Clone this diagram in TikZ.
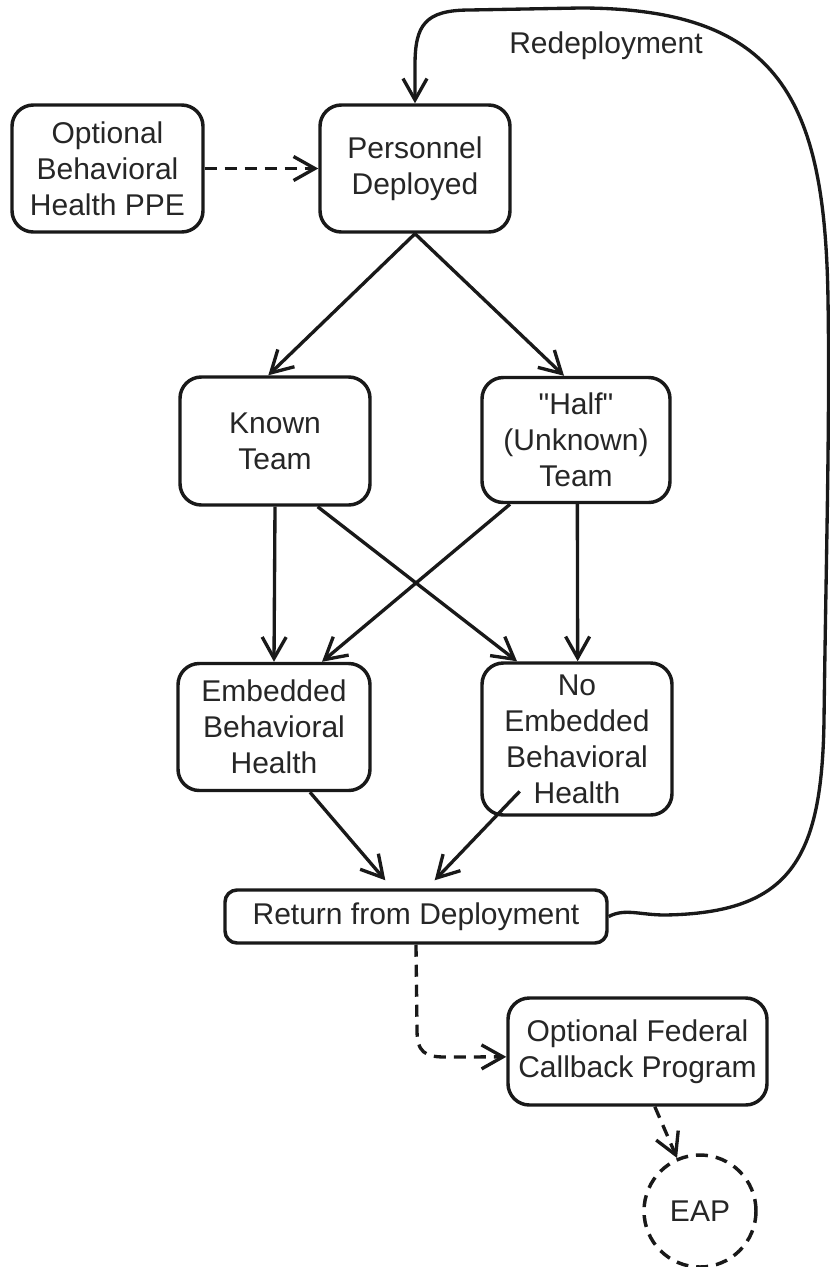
\documentclass[tikz,border=0pt]{standalone}
\usepackage{fontspec}
\newfontfamily\lsans{Liberation Sans}
\usetikzlibrary{arrows.meta,shapes.geometric}
\begin{document}
\begin{tikzpicture}[x=0.75pt,y=-0.75pt,
  txt/.style={font=\lsans\fontsize{22.5}{27}\selectfont, text=black!85},
  box/.style={txt, draw=black!90, line width=2.6pt, rounded corners=16pt, align=center, inner sep=1pt},
  arr/.style={draw=black!90, line width=2.5pt, -{Straight Barb[length=16pt,width=18pt,line width=2.5pt]}},
  darr/.style={arr, dash pattern=on 9pt off 6pt},
]
\useasboundingbox (0,0) rectangle (830,1267);

\node[box, minimum width=143.25pt, minimum height=95.25pt] (ppe) at (107.5,168.5) {Optional\\Behavioral\\Health PPE};
\node[box, minimum width=142.5pt, minimum height=95.25pt] (pers) at (415,168.5) {Personnel\\Deployed};
\node[box, minimum width=142.5pt, minimum height=96pt] (known) at (275,441) {Known\\Team};
\node[box, minimum width=141pt, minimum height=93.75pt] (half) at (576,440) {"Half"\\(Unknown)\\Team};
\node[box, minimum width=144pt, minimum height=95.25pt] (emb) at (274,727) {Embedded\\Behavioral\\Health};
\node[box, minimum width=142.5pt, minimum height=114pt] (noemb) at (577,739) {No\\Embedded\\Behavioral\\Health};
\node[box, rounded corners=9pt, minimum width=286.5pt, minimum height=39.75pt] (ret) at (416,916.5) {Return from Deployment};
\node[box, minimum width=194.25pt, minimum height=80.25pt] (cb) at (637.5,1051.5) {Optional Federal\\Callback Program};
\node[box, circle, dash pattern=on 9pt off 6pt, minimum size=84pt, inner sep=0pt] (eap) at (700,1211) {EAP};

\node[txt] (lbl) at (606,46) {Redeployment};

\draw[darr] (ppe) -- (pers);
\draw[arr] (pers.south) -- ([xshift=-5pt]known.north);
\draw[arr] (pers.south) -- ([xshift=-9pt]half.north);
\draw[arr] (known.south) -- (emb.north);
\draw[arr] ([xshift=32pt]known.south) -- ([xshift=-45pt]noemb.north);
\draw[arr] ([xshift=-49.5pt]half.south) -- ([xshift=36pt]emb.north);
\draw[arr] ([xshift=1pt]half.south) -- ([xshift=0.5pt]noemb.north);
\draw[arr] ([xshift=27pt]emb.south) -- ([xshift=-23pt,yshift=6pt]ret.north);
\draw[arr] ([xshift=-43pt,yshift=19pt]noemb.south) -- ([xshift=14pt,yshift=6pt]ret.north);

\draw[arr] (ret.east) .. controls (625,908) and (640,915) .. (665,915)
  .. controls (790,913) and (822,860) .. (824,720)
  .. controls (826,560) and (830,420) .. (828,300)
  .. controls (825,100) and (780,8) .. (580,8)
  -- (470,10) .. controls (425,10) and (415,25) .. (415,65) -- (pers.north);

\draw[darr] (ret.south) -- (417,1030) .. controls (417,1052) and (425,1057) .. (445,1057) -- ([yshift=-4pt]cb.west);
\draw[darr] ([xshift=13pt]cb.south) -- (eap);
\end{tikzpicture}
\end{document}
